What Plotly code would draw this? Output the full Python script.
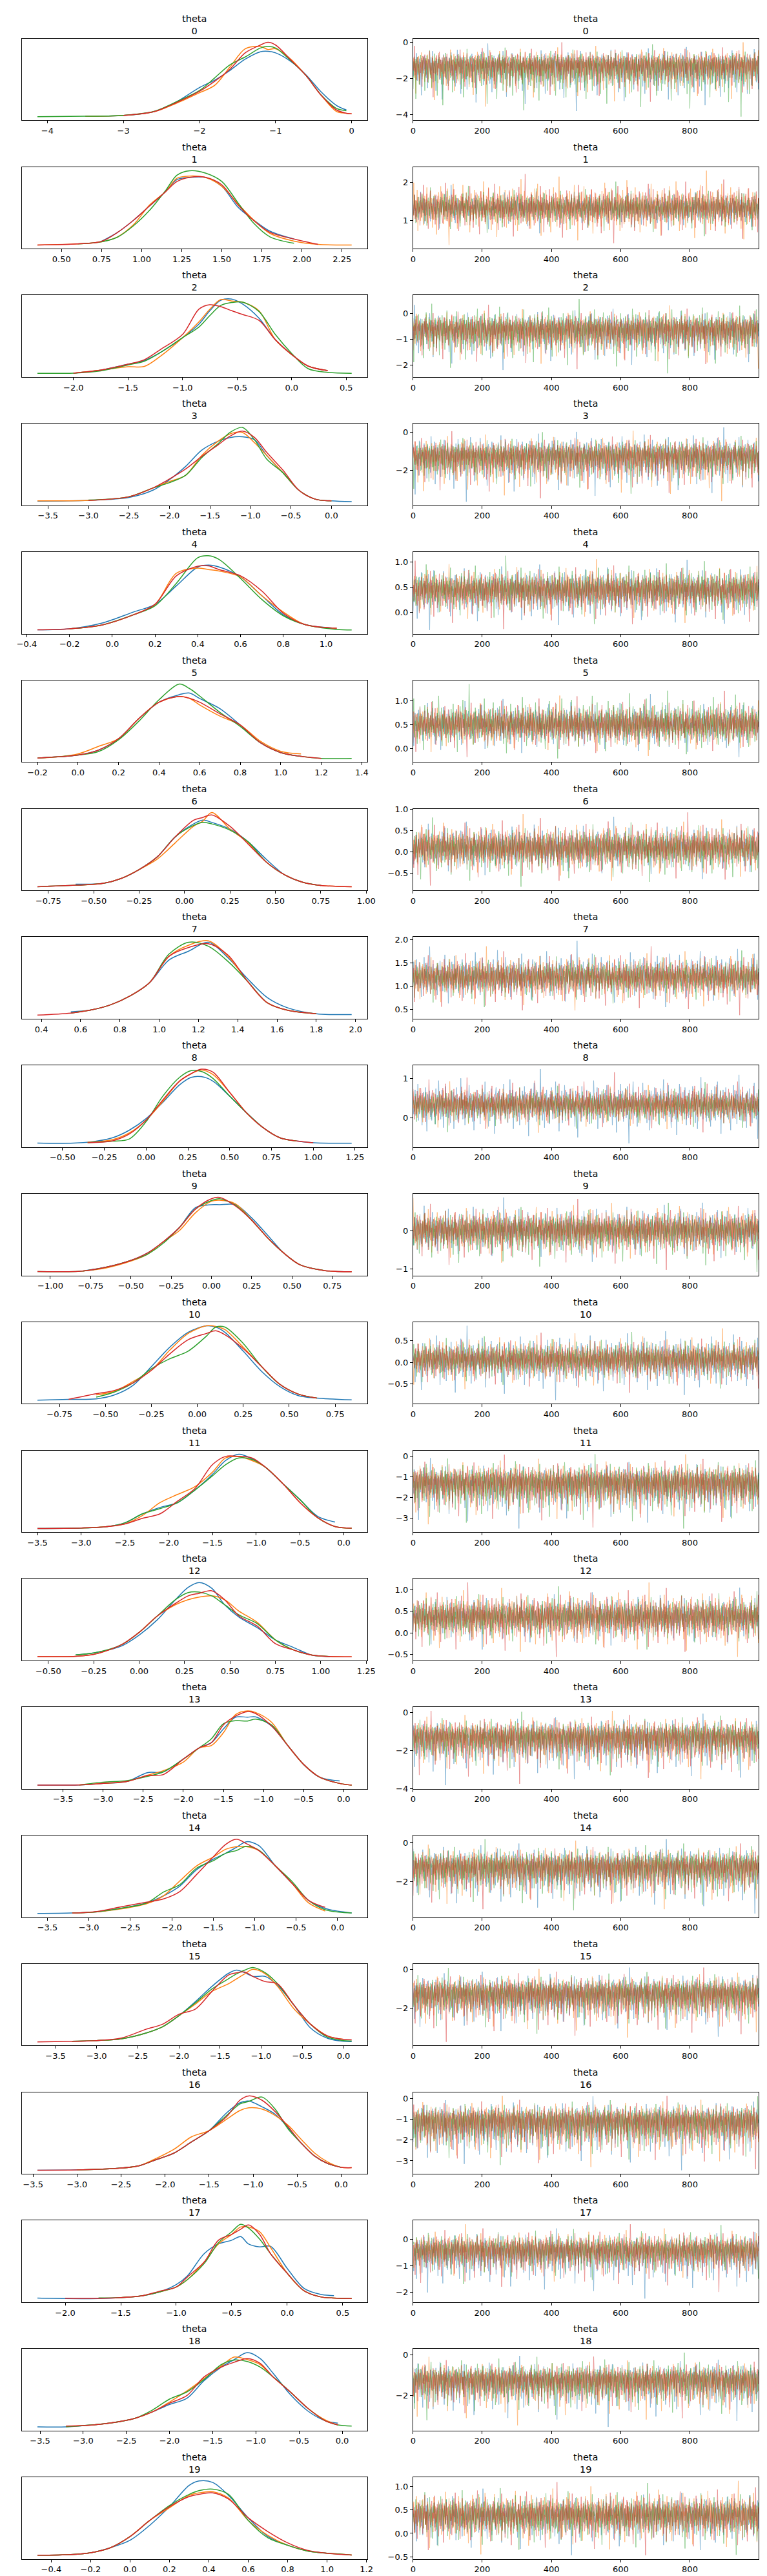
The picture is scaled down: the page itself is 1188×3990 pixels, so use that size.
import plotly.graph_objects as go

# ---- data (ArviZ-style trace plot, 20 parameters x 4 chains) ----
chain_colors = ["#1f77b4", "#ff7f0e", "#2ca02c", "#d62728"]

# KDE evaluation points per parameter and relative density per chain (peak ~100)
kde_grid = [
    [-4.13, -3.5, -3.0, -2.6, -2.3, -2.0, -1.8, -1.6, -1.4, -1.2, -1.1, -1.0, -0.8, -0.6, -0.4, -0.2, -0.07, 0.0],
    [0.35, 0.6, 0.75, 0.85, 0.95, 1.05, 1.15, 1.22, 1.3, 1.4, 1.5, 1.6, 1.7, 1.8, 1.95, 2.1, 2.31],
    [-2.33, -2.0, -1.75, -1.5, -1.35, -1.2, -1.0, -0.85, -0.75, -0.65, -0.55, -0.45, -0.3, -0.15, 0.0, 0.15, 0.33, 0.55],
    [-3.63, -3.0, -2.5, -2.2, -2.0, -1.8, -1.6, -1.4, -1.25, -1.1, -0.95, -0.8, -0.6, -0.4, -0.2, 0.0, 0.25],
    [-0.35, -0.2, -0.05, 0.1, 0.2, 0.3, 0.4, 0.45, 0.5, 0.6, 0.7, 0.8, 0.9, 1.05, 1.12],
    [-0.2, -0.1, 0.0, 0.1, 0.2, 0.3, 0.4, 0.5, 0.55, 0.6, 0.7, 0.8, 0.9, 1.0, 1.1, 1.2, 1.35],
    [-0.81, -0.6, -0.45, -0.35, -0.25, -0.15, -0.05, 0.05, 0.1, 0.15, 0.25, 0.35, 0.45, 0.55, 0.65, 0.75, 0.92],
    [0.38, 0.55, 0.65, 0.75, 0.85, 0.95, 1.05, 1.15, 1.25, 1.35, 1.45, 1.55, 1.65, 1.8, 1.98],
    [-0.65, -0.5, -0.35, -0.2, -0.1, 0.0, 0.1, 0.2, 0.27, 0.33, 0.4, 0.5, 0.6, 0.7, 0.8, 0.9, 1.0, 1.23],
    [-1.08, -0.8, -0.65, -0.5, -0.4, -0.3, -0.2, -0.1, 0.0, 0.05, 0.15, 0.25, 0.35, 0.45, 0.55, 0.7, 0.87],
    [-0.87, -0.7, -0.55, -0.45, -0.35, -0.25, -0.15, -0.05, 0.05, 0.1, 0.15, 0.25, 0.35, 0.45, 0.55, 0.65, 0.84],
    [-3.5, -3.0, -2.7, -2.5, -2.3, -2.1, -1.9, -1.7, -1.5, -1.35, -1.2, -1.05, -0.9, -0.7, -0.5, -0.3, -0.1, 0.09],
    [-0.56, -0.35, -0.25, -0.1, 0.0, 0.1, 0.2, 0.27, 0.33, 0.4, 0.47, 0.55, 0.65, 0.75, 0.85, 0.95, 1.05, 1.17],
    [-3.82, -3.3, -3.0, -2.7, -2.45, -2.25, -2.0, -1.8, -1.65, -1.5, -1.35, -1.2, -1.1, -0.9, -0.7, -0.5, -0.3, -0.05, 0.1],
    [-3.62, -3.2, -2.9, -2.6, -2.3, -2.1, -1.9, -1.7, -1.5, -1.35, -1.22, -1.1, -0.95, -0.75, -0.55, -0.35, -0.15, 0.17],
    [-3.72, -3.3, -3.0, -2.7, -2.4, -2.2, -2.0, -1.8, -1.6, -1.4, -1.3, -1.2, -1.1, -0.95, -0.8, -0.6, -0.4, -0.2, 0.0, 0.1],
    [-3.45, -3.0, -2.6, -2.3, -2.1, -1.9, -1.7, -1.5, -1.3, -1.15, -1.05, -0.9, -0.75, -0.6, -0.45, -0.3, -0.15, 0.0, 0.12],
    [-2.25, -2.0, -1.7, -1.5, -1.3, -1.15, -1.0, -0.9, -0.75, -0.62, -0.5, -0.42, -0.35, -0.25, -0.15, 0.0, 0.15, 0.3, 0.42, 0.58],
    [-3.53, -3.2, -3.0, -2.7, -2.4, -2.2, -2.0, -1.8, -1.6, -1.4, -1.25, -1.1, -0.95, -0.8, -0.6, -0.4, -0.2, -0.05, 0.11],
    [-0.47, -0.3, -0.2, -0.1, 0.0, 0.1, 0.2, 0.3, 0.35, 0.42, 0.5, 0.6, 0.7, 0.8, 0.9, 1.0, 1.125],
]
N_ = None
kde_chain0 = [
    [N_, 1.5, 2.6, 7.6, 21, 40, 50, 63, 78, 88, 88.6, 86.5, 75, 57, 34, 16, 10, N_],
    [N_, N_, 6, 18, 34.4, 53.7, 73, 89, 92, 91.7, 80, 52, 34.4, 19.6, 9, N_, N_],
    [N_, 1, 5, 13, 18, 29, 48.6, 67, 85, 99, 100.7, 94, 75, 46, 26, 10.5, 4.4, N_],
    [1, 2, 6, 16, 30, 48, 70, 82, 87, 88, 84, 63, 39.5, 15.6, 3.7, 1.4, 0.3],
    [0.7, 2, 9.5, 24.7, 35, 60, 85.5, 88, 85.5, 72, 46.6, 21, 7.8, 2.7, N_],
    [1.4, 3, 5.4, 12, 27.5, 54.6, 76.6, 86.8, 89, 81.7, 68, 46, 22, 8.8, 3.7, N_, N_],
    [N_, 4.4, 5.4, 12, 24, 41, 68, 85, 90, 87, 78, 61, 37.6, 17, 7, 2.7, N_],
    [N_, 4.7, 7, 14, 26, 44, 75, 87, 99, 78, 49.5, 24, 10.5, 2, 1],
    [1.5, 1, 2.5, 8.6, 18.7, 34, 55.7, 79, 89, 90, 84, 64, 42, 22, 8.6, 4.2, 1.8, 1.2],
    [N_, 1.7, 7, 16, 25.6, 41, 60, 87, 91, 91, 91, 73, 49.5, 25.6, 10, 2.4, 0.7],
    [1, 2, 2.7, 8, 20.7, 46, 72, 92, 100.7, 99, 92, 66.7, 39.5, 19, 7, 3.7, 1.4],
    [1.4, 2, 4, 9, 21, 29.6, 36, 53, 74, 92.5, 101, 95, 84, 62, 40, 17.7, 10, N_],
    [N_, 3.5, 6, 15, 30, 50.5, 77.5, 94, 100.5, 92.7, 70.8, 54, 40, 23.5, 13.3, 3.2, 1.2, N_],
    [1.4, 1.7, 3.7, 6.4, 18, 19, 36, 51, 57.8, 76, 91.6, 91.6, 92, 80, 54.4, 29, 12, 7, N_],
    [0.7, 1.4, 3, 8, 15, 24.5, 38, 60, 74, 82, 90, 97.6, 92.5, 65, 41.5, 18.4, 7.5, 1.4],
    [N_, 1.4, 2.4, 4.8, 12.6, 21, 36, 55, 75.5, 93, 97.6, 94, 89, 89, 77, 50, 19.4, 5.8, 1.4, 1],
    [1.2, 1.5, 3.2, 7, 15.4, 24, 39, 54, 78, 91.4, 93.7, 86, 76, 57.6, 37, 20, 10, 5, N_],
    [1.3, 0.7, 0.7, 2, 4.7, 9.7, 19.7, 31.4, 61.5, 75, 80, 85, 75, 71, 71.6, 41.5, 14.7, 6.4, 4.7, N_],
    [0.3, 0.3, 2, 5.4, 12, 20.6, 30.7, 39, 63, 81.4, 91.6, 101, 93, 73, 44, 22, 8.8, 5.4, N_],
    [0.3, 1.3, 3.7, 10.4, 20.4, 40.5, 65.5, 94, 100, 98, 80.6, 50.5, 25.4, 13.7, 6, 3, N_],
]
kde_chain1 = [
    [N_, 1.5, 2.6, 7.6, 19, 33, 43, 67.5, 92, 95, 91, 92, 78, 56, 29.5, 8, 5.5, 4.7],
    [1, 2.4, 5.3, 12, 28.5, 55, 73, 90.8, 93.8, 91.7, 80, 56.7, 34.4, 16.6, 6.2, 1.8, 1],
    [N_, 1, 5, 9.5, 10, 24, 48.6, 70, 87, 100, 98, 96.6, 85, 46, 26, 10.5, 4.4, N_],
    [1.5, 2, 7, 19, 27.5, 36, 63, 82, 92, 94, 80, 63, 39.5, 15.6, 3.7, 1.4, N_],
    [N_, 2, 7, 21, 35, 77, 84, 82, 80, 72, 46.6, 24.7, 7.8, 2.7, N_],
    [1.4, 3, 7, 17, 27.5, 54.6, 76.6, 84.4, 81.7, 73, 58, 46, 24, 10.5, 7, N_, N_],
    [N_, 3, 5.4, 12, 24, 38, 60, 82, 88.5, 100.3, 78, 60, 34, 17, 7, 2.7, 1],
    [N_, 3, 7, 14, 26, 44, 80, 95, 101, 80, 46, 17, 7, 2, N_],
    [N_, N_, 2.5, 6, 15, 32, 57, 84, 94, 99, 92.8, 69, 42, 22, 8.6, 4.2, N_, N_],
    [N_, 1.7, 6, 15, 24, 41, 56, 80, 95.6, 97, 92, 70, 46, 25.6, 10, 2.4, 0.7],
    [N_, N_, 8, 13, 26, 41, 68, 90.5, 100.7, 100, 95.6, 72, 46, 22, 9, 3.7, N_],
    [N_, 2, 4, 7.5, 18.7, 36, 47, 57.5, 77, 96, 97.6, 92.5, 84, 62, 36, 16, 4, 1.7],
    [1, 1.5, 4, 16.7, 33.6, 55.6, 70.8, 77.5, 81, 82.6, 77.5, 62, 47, 23.5, 10, 3.2, 1.2, 0.8],
    [N_, 1.7, 3.7, 6.4, 14.5, 20.6, 32, 51, 54, 71, 95, 100, 98, 85, 54.4, 29, 12, 3.7, 1.4],
    [N_, 1.4, 3, 7, 14, 24.5, 45, 65, 77, 87.4, 91, 91, 85.7, 65, 41.5, 15, 4, N_],
    [N_, 1.4, 2.4, 4.8, 12.6, 21, 36, 51.7, 68.7, 79, 85.7, 92.5, 98.6, 92.5, 75.5, 45, 24.5, 9, 4, N_],
    [N_, 1.5, 3.2, 7, 17, 29, 45.8, 54, 69.4, 81, 84.6, 83, 74.5, 61, 42, 24, 12, 5, 4.5],
    [N_, N_, N_, 2, 4.7, 9.7, 16.4, 26.4, 50, 75, 88, 98, 98, 91.6, 70, 35, 11.4, 3, 1.3, 0.7],
    [N_, 1, 2, 5.4, 12, 20.6, 34, 49, 66, 83, 95, 91.6, 84.8, 68, 47.6, 25.7, 10, 3, N_],
    [0.3, 1.3, 3.7, 10.4, 25.4, 47, 64, 80.6, 84, 85.6, 77, 47, 27, 13.7, 6, 3, 0.7],
]
kde_chain2 = [
    [1, 1.5, 2.6, 8, 21, 36, 53, 70.5, 81, 93, 95, 93, 76, 56, 30, 12, 9, N_],
    [N_, 2.4, 5.3, 11.6, 27, 47.8, 74.5, 95, 101, 97.6, 86.4, 58, 30, 12, 3.3, N_, N_],
    [0.7, 1, 4, 12, 17, 29, 48.6, 63, 78.5, 92, 96, 96.6, 84, 53, 27.5, 7, 2, 0.7],
    [N_, 2.5, 7, 19, 26, 36, 60, 78.6, 94, 100.7, 84, 58, 39.5, 15.6, 3.7, 1.4, N_],
    [N_, 2, 7, 21, 33, 63.5, 98, 100.7, 95.6, 70, 41.5, 19.6, 7.8, 1, 0.3],
    [1.4, 3, 5.4, 10, 26, 51, 80, 101, 95, 85, 63, 44, 22, 8.8, 3.7, 1, 1],
    [1, 3, 5.4, 12, 24, 41, 68, 83, 87, 85, 76.6, 61, 34, 17, 7, 2.7, N_],
    [N_, 3, 7, 14, 26, 44, 83, 99, 93.6, 73, 46, 17, 7, 2, N_],
    [N_, N_, 2, 4, 7, 30, 64, 89, 98, 97, 87.7, 64, 42, 22, 8.6, 4.2, N_, N_],
    [1, 1.7, 7, 16, 24, 39, 60, 85, 96.6, 99, 90, 70, 46, 25.6, 10, 2.4, N_],
    [N_, N_, 5, 12, 24, 43, 56.5, 66.7, 87, 99, 99, 77, 46, 22, 9, 3.7, N_],
    [1.4, 2, 4, 9, 21, 28, 36, 53, 72, 87, 96, 94, 84, 62, 40, 16, 4, 1.7],
    [N_, 3.5, 6, 16.7, 33.6, 55.6, 77.5, 87, 87.7, 82.6, 70.8, 57, 45.4, 23.5, 10, 3.2, 1.2, N_],
    [N_, 1.7, 5.4, 7.5, 13, 19, 36, 51, 63, 83, 87, 86.5, 89, 81.4, 54.4, 29, 12, 3.7, 1.4],
    [N_, 1.4, 3, 8, 15, 29.6, 40, 62, 72, 82, 85.7, 91.5, 86.4, 65, 44, 18.4, 5.8, 1.4],
    [N_, 1.4, 2.4, 4.8, 12.6, 21, 36, 53.4, 72, 85.7, 92.5, 97.6, 101, 94, 79, 50, 24.5, 7.5, 2.4, 2],
    [N_, 1.5, 3.2, 7, 15.4, 24, 39, 54, 74.5, 89.7, 93, 99, 83, 56, 37, 20, 10, 5, N_],
    [N_, N_, 1.5, 2, 4.7, 9.7, 16.4, 26.4, 48, 76.6, 91.6, 101.7, 96.7, 81.6, 61.5, 35, 11.4, 3, 1.3, 0.7],
    [N_, 0.3, 2, 5.4, 12, 23, 38, 47.6, 64.5, 84.8, 91, 89, 81.4, 68, 47.6, 25.7, 8.8, 3, 1.4],
    [0.3, 1.3, 3.7, 10.4, 25.4, 47, 67, 82, 87, 89, 82, 47, 23.7, 13.7, 6, 3, 0.7],
]
kde_chain3 = [
    [N_, N_, 2.6, 7.6, 20, 35, 48.5, 64.6, 86.5, 97, 100.6, 97, 77, 56, 29.5, 10, 5.5, 4.7],
    [1, 2.4, 6, 18, 34.4, 53.7, 73, 86.4, 92, 92, 82, 55, 33.5, 18, 9, 1.8, N_],
    [N_, 1, 5, 13, 19, 33, 53, 87, 93, 90.5, 85, 80, 72, 46, 26, 10.5, 4.4, N_],
    [N_, 2, 7, 19, 31, 44.5, 61.6, 77, 89, 95.6, 87, 67, 43, 15.6, 3.7, 1.4, N_],
    [0.7, 2, 7, 21, 35, 73.6, 86.5, 87, 82, 73.6, 53, 23, 7.8, 2.7, N_],
    [1.4, 3, 5.4, 12, 27.5, 54.6, 76.6, 84.4, 82, 76.6, 61, 46, 22, 8.8, 3.7, 1, N_],
    [1, 3, 5.4, 12, 24, 41, 68, 90, 93.6, 97, 81.7, 58, 34, 17, 7, 2.7, 1],
    [0.3, 3, 7, 14, 26, 44, 80, 92, 97, 81.7, 46, 17, 7, 2, N_],
    [N_, N_, 2, 4.5, 13.6, 32, 59, 84, 94, 100, 96, 69, 42, 22, 8.6, 4.2, 1.8, N_],
    [1, 1.7, 7, 16, 25.6, 41, 60, 85, 99, 100.7, 89, 70, 46, 25.6, 10, 2.4, 0.7],
    [N_, 2, 9.5, 14, 24, 41, 63, 82, 90.5, 94, 88.8, 70, 46, 22, 9, 3.7, N_],
    [1.4, 2, 4, 7.5, 15, 21, 38, 55, 87, 98, 98, 96, 84, 62, 36, 16, 4, 1.7],
    [1, 1.5, 4, 16.7, 33.6, 55.6, 72.5, 82.6, 86, 89.4, 77.5, 55.6, 42, 18.4, 10, 3.2, 1.2, 0.8],
    [1.4, 1.7, 3.7, 6.4, 14, 15.5, 36, 51, 57.8, 81.4, 93, 99, 96.6, 80, 54.4, 29, 12, 3.7, 1.4],
    [N_, 1.4, 3.5, 10, 16, 20.4, 30.6, 53.4, 77, 94, 101, 95, 85.7, 65, 41.5, 18.4, 9, N_],
    [0.7, 1.4, 2.4, 5.8, 17.7, 24.5, 38, 45, 68.7, 90.8, 94, 95, 89, 82, 79, 50, 24.5, 9, 4, 3.4],
    [1.2, 1.5, 3.2, 7, 15.4, 24, 39, 54, 72.8, 94.8, 100.5, 94.8, 79.6, 59, 37, 20, 10, 5, 4.5],
    [N_, 1.2, 0.9, 2, 4.7, 10.7, 16.4, 30, 50, 80, 88, 95, 100.7, 88, 61.5, 35, 11.4, 3, 1.3, 0.7],
    [N_, 1.5, 2, 5.4, 12, 20.6, 32.4, 42.6, 68, 81.4, 88, 93, 86.5, 68, 47.6, 25.7, 8.8, 3, N_],
    [0.3, 1.3, 3.7, 10.4, 25.4, 47, 65.5, 79, 82, 84, 75.6, 50.5, 32, 17, 7, 3, 0.7],
]

# trace panels: typical level and the lowest / highest draw of each chain
trace_center = [-1.25, 1.33, -0.6, -1.2, 0.45, 0.5, 0.1, 1.2, 0.33, 0.02,
                0.07, -1.25, 0.37, -1.25, -1.2, -1.2, -1.05, -0.4, -1.2, 0.4]
chain_lo = [
    [-3.82, -3.57, -4.13, -3.3], [0.66, 0.35, 0.58, 0.4], [-2.2, -2.15, -2.33, -2.17],
    [-3.63, -3.6, -3.21, -3.45], [-0.35, -0.21, -0.23, -0.33], [-0.17, -0.15, -0.2, -0.17],
    [-0.63, -0.67, -0.81, -0.78], [0.55, 0.48, 0.55, 0.38], [-0.65, -0.38, -0.36, -0.37],
    [-0.82, -0.84, -1.08, -1.03], [-0.87, -0.62, -0.6, -0.7], [-3.5, -3.3, -3.5, -3.45],
    [-0.39, -0.56, -0.39, -0.56], [-3.82, -3.5, -3.3, -3.75], [-3.62, -3.4, -3.45, -3.4],
    [-3.45, -3.5, -3.3, -3.72], [-3.45, -3.3, -3.2, -3.4], [-2.25, -1.6, -1.7, -2.0],
    [-3.53, -3.45, -3.2, -3.1], [-0.47, -0.45, -0.46, -0.47],
]
chain_hi = [
    [-0.07, 0.0, -0.11, 0.0], [1.93, 2.31, 2.02, 2.22], [0.32, 0.3, 0.55, 0.33],
    [0.25, 0.08, 0.0, 0.05], [1.04, 1.05, 1.12, 1.02], [1.14, 1.11, 1.35, 1.21],
    [0.82, 0.88, 0.8, 0.92], [1.98, 1.86, 1.77, 1.86], [1.23, 0.92, 0.9, 1.15],
    [0.87, 0.86, 0.73, 0.83], [0.84, 0.78, 0.7, 0.68], [-0.1, 0.08, 0.09, 0.07],
    [1.05, 1.17, 1.08, 1.17], [-0.05, 0.1, 0.05, 0.1], [0.17, 0.1, 0.17, -0.05],
    [0.1, 0.03, 0.08, 0.1], [0.1, 0.12, 0.1, 0.12], [0.42, 0.58, 0.55, 0.58],
    [-0.05, -0.1, 0.11, -0.08], [0.96, 1.125, 1.08, 1.1],
]

# draw-to-draw wiggle of the chains (tenths of a spread unit), one value per plotted draw
wiggle = """
3 -8 12 -5 0 17 -11 6 -2 9 -14 4 -21 7 1 -6 13 -3 10 -9 2 -16 5 8 -1
-7 11 -4 20 -12 3 -1 6 -18 9 0 -5 14 -10 2 7 -3 -24 8 15 -6 1 -9 12 4
-13 5 -2 10 -7 18 -4 0 -11 6 3 -15 9 -8 22 -1 4 -6 13 -20 7 -3 11 -9 2
6 -10 1 -17 8 4 -5 12 -2 -8 16 -12 3 9 -4 0 -26 10 5 -7 14 -1 -11 7 19
-3 8 -14 2 11 -6 5 -9 31 -2 7 -13 0 4 -19 10 -5 13 -8 1 6 -16 9 -4 15
-1 -12 7 3 -7 20 -3 10 -10 5 -22 8 1 -6 12 -15 4 -2 17 -9 2 11 -5 -13 6
9 -4 14 -11 0 6 -8 3 -18 12 5 -1 -27 7 10 -6 2 -14 16 -3 8 -10 1 4 -7
13 -9 -2 5 -16 11 3 -5 8 -12 21 -1 6 -8 0 15 -20 4 -3 9 -11 2 12 -6 -15
4 10 -7 1 17 -13 6 -2 -9 14 -4 8 -17 3 -10 11 5 -1 -23 7 -5 13 0 -8 18
-6 2 12 -14 9 -3 5 -11 1 16 -8 -32 10 -2 7 -12 4 20 -5 -9 3 11 -1 -18 6
8 -5 -13 10 2 -7 19 -4 6 -10 0 13 -15 5 -2 9 -21 3 12 -6 1 -12 7 15 -3
-9 4 11 -2 -16 8 -6 14 1 -11 5 22 -8 3 -14 10 -1 -5 17 -10 6 -3 -19 9 2
12 -7 1 -12 7 -25 4 10 -4 18 -9 2 6 -13 11 -2 -8 15 0 -17 8 5 -11 13 -5
-2 9 -10 16 3 -6 11 -15 0 7 -20 5 12 -3 -9 24 -7 2 -12 8 14 -4 1 -14 10
5 -11 7 -1 -18 13 -5 3 9 -8 16 -13 2 -4 20 -10 6 -2 11 -24 4 -7 13 0 -9
-4 15 -8 6 1 -12 10 -3 -21 8 3 -6 17 -11 5 -1 12 -16 9 -5 26 -9 2 -13 7
11 -2 -14 4 -7 9 -19 12 0 -5 14 -10 6 1 -15 8 -3 19 -8 3 -12 10 -28 5 -1
-8 6 13 -9 2 -3 18 -13 7 -6 10 -1 -17 4 11 -11 0 15 -4 -22 9 3 -7 12 -10
7 -13 3 10 -5 1 -16 14 -9 5 -2 21 -7 8 -12 2 13 -4 -19 6 -1 16 -10 4 -6
-11 9 -1 -15 12 -6 4 11 -20 2 8 -4 15 -9 -14 6 1 -8 23 -3 10 -12 -2 7 -17
"""

left_ticks = [
    ["\u22124", "\u22123", "\u22122", "\u22121", "0"],
    ["0.50", "0.75", "1.00", "1.25", "1.50", "1.75", "2.00", "2.25"],
    ["\u22122.0", "\u22121.5", "\u22121.0", "\u22120.5", "0.0", "0.5"],
    ["\u22123.5", "\u22123.0", "\u22122.5", "\u22122.0", "\u22121.5", "\u22121.0", "\u22120.5", "0.0"],
    ["\u22120.4", "\u22120.2", "0.0", "0.2", "0.4", "0.6", "0.8", "1.0"],
    ["\u22120.2", "0.0", "0.2", "0.4", "0.6", "0.8", "1.0", "1.2", "1.4"],
    ["\u22120.75", "\u22120.50", "\u22120.25", "0.00", "0.25", "0.50", "0.75", "1.00"],
    ["0.4", "0.6", "0.8", "1.0", "1.2", "1.4", "1.6", "1.8", "2.0"],
    ["\u22120.50", "\u22120.25", "0.00", "0.25", "0.50", "0.75", "1.00", "1.25"],
    ["\u22121.00", "\u22120.75", "\u22120.50", "\u22120.25", "0.00", "0.25", "0.50", "0.75"],
    ["\u22120.75", "\u22120.50", "\u22120.25", "0.00", "0.25", "0.50", "0.75"],
    ["\u22123.5", "\u22123.0", "\u22122.5", "\u22122.0", "\u22121.5", "\u22121.0", "\u22120.5", "0.0"],
    ["\u22120.50", "\u22120.25", "0.00", "0.25", "0.50", "0.75", "1.00", "1.25"],
    ["\u22123.5", "\u22123.0", "\u22122.5", "\u22122.0", "\u22121.5", "\u22121.0", "\u22120.5", "0.0"],
    ["\u22123.5", "\u22123.0", "\u22122.5", "\u22122.0", "\u22121.5", "\u22121.0", "\u22120.5", "0.0"],
    ["\u22123.5", "\u22123.0", "\u22122.5", "\u22122.0", "\u22121.5", "\u22121.0", "\u22120.5", "0.0"],
    ["\u22123.5", "\u22123.0", "\u22122.5", "\u22122.0", "\u22121.5", "\u22121.0", "\u22120.5", "0.0"],
    ["\u22122.0", "\u22121.5", "\u22121.0", "\u22120.5", "0.0", "0.5"],
    ["\u22123.5", "\u22123.0", "\u22122.5", "\u22122.0", "\u22121.5", "\u22121.0", "\u22120.5", "0.0"],
    ["\u22120.4", "\u22120.2", "0.0", "0.2", "0.4", "0.6", "0.8", "1.0", "1.2"],
]
right_ticks = [
    ["\u22124", "\u22122", "0"], ["1", "2"], ["\u22122", "\u22121", "0"], ["\u22122", "0"],
    ["0.0", "0.5", "1.0"], ["0.0", "0.5", "1.0"], ["\u22120.5", "0.0", "0.5", "1.0"],
    ["0.5", "1.0", "1.5", "2.0"], ["0", "1"], ["\u22121", "0"], ["\u22120.5", "0.0", "0.5"],
    ["\u22123", "\u22122", "\u22121", "0"], ["\u22120.5", "0.0", "0.5", "1.0"], ["\u22124", "\u22122", "0"],
    ["\u22122", "0"], ["\u22122", "0"], ["\u22123", "\u22122", "\u22121", "0"], ["\u22122", "\u22121", "0"],
    ["\u22122", "0"], ["\u22120.5", "0.0", "0.5", "1.0"],
]
draw_ticks = [0, 200, 400, 600, 800]

# ---- layout geometry (pixels of the 1188 x 3990 page) ----
W, H = 1188, 3990
LEFT_PX, RIGHT_PX = (18, 563), (635, 1180)
TOP0, PITCH, PANEL_H = 45, 199.5, 127
FONT = "DejaVu Sans"


def num(s):
    return float(s.replace("\u2212", "-"))


def padded(lo, hi, frac=0.05):
    d = hi - lo
    return [lo - frac * d, hi + frac * d]


noise = [int(t) / 10 for t in wiggle.split()]
n_draws = len(noise)
nmax, nmin = max(noise), min(noise)
draw_x = list(range(0, 2 * n_draws, 2))

axis_style = dict(showline=True, mirror=True, linecolor="black", linewidth=1,
                  ticks="outside", ticklen=4, tickwidth=1, tickcolor="black",
                  showgrid=False, zeroline=False,
                  tickfont=dict(family=FONT, size=13, color="black"))

fig = go.Figure()
layout = {}
annotations = []
kde_all = [kde_chain0, kde_chain1, kde_chain2, kde_chain3]

for i in range(len(kde_grid)):
    top = TOP0 + PITCH * i
    dom_y = [1 - (top + PANEL_H) / H, 1 - top / H]
    nl, nr = 2 * i + 1, 2 * i + 2
    xl = "x" if nl == 1 else f"x{nl}"
    yl = "y" if nl == 1 else f"y{nl}"
    xr, yr = f"x{nr}", f"y{nr}"

    # left: per-chain density
    ys = []
    for c in range(4):
        yv = kde_all[c][i]
        ys += [v for v in yv if v is not None]
        fig.add_trace(go.Scatter(x=kde_grid[i], y=yv, xaxis=xl, yaxis=yl, mode="lines",
                                 line=dict(color=chain_colors[c], width=1.5, shape="spline", smoothing=0.9),
                                 connectgaps=False, showlegend=False, hoverinfo="skip"))

    # right: draws of each chain
    lo_all, hi_all = min(chain_lo[i]), max(chain_hi[i])
    ctr = trace_center[i]
    for c in range(4):
        off = (i * 53 + c * 131) % n_draws
        seq = noise[off:] + noise[:off]
        up = chain_hi[i][c] - ctr
        dn = ctr - chain_lo[i][c]
        vals = [ctr + (v / nmax) * up if v >= 0 else ctr - (v / nmin) * dn for v in seq]
        fig.add_trace(go.Scatter(x=draw_x, y=vals, xaxis=xr, yaxis=yr, mode="lines",
                                 line=dict(color=chain_colors[c], width=1.0), opacity=0.5,
                                 showlegend=False, hoverinfo="skip"))

    lt = left_ticks[i]
    rt = right_ticks[i]
    layout["xaxis" if nl == 1 else f"xaxis{nl}"] = dict(
        axis_style, domain=[LEFT_PX[0] / W, LEFT_PX[1] / W], anchor=yl,
        range=padded(kde_grid[i][0], kde_grid[i][-1]),
        tickmode="array", tickvals=[num(s) for s in lt], ticktext=lt)
    layout["yaxis" if nl == 1 else f"yaxis{nl}"] = dict(
        axis_style, domain=dom_y, anchor=xl, range=padded(min(ys), max(ys)),
        showticklabels=False, ticks="")
    layout[f"xaxis{nr}"] = dict(
        axis_style, domain=[RIGHT_PX[0] / W, RIGHT_PX[1] / W], anchor=yr,
        range=[0, 999], tickmode="array", tickvals=draw_ticks,
        ticktext=[str(t) for t in draw_ticks])
    layout[f"yaxis{nr}"] = dict(
        axis_style, domain=dom_y, anchor=xr, range=padded(lo_all, hi_all),
        tickmode="array", tickvals=[num(s) for s in rt], ticktext=rt)

    for px in (LEFT_PX, RIGHT_PX):
        annotations.append(dict(text=f"theta<br>{i}", x=(px[0] + px[1]) / 2 / W, y=dom_y[1],
                                xref="paper", yref="paper", xanchor="center", yanchor="bottom",
                                yshift=2, showarrow=False,
                                font=dict(family=FONT, size=14.5, color="black")))

fig.update_layout(**layout)
fig.update_layout(width=W, height=H, autosize=False,
                  margin=dict(l=0, r=0, t=0, b=0),
                  paper_bgcolor="white", plot_bgcolor="white",
                  font=dict(family=FONT, color="black"),
                  annotations=annotations)
fig.write_html("out.html")
